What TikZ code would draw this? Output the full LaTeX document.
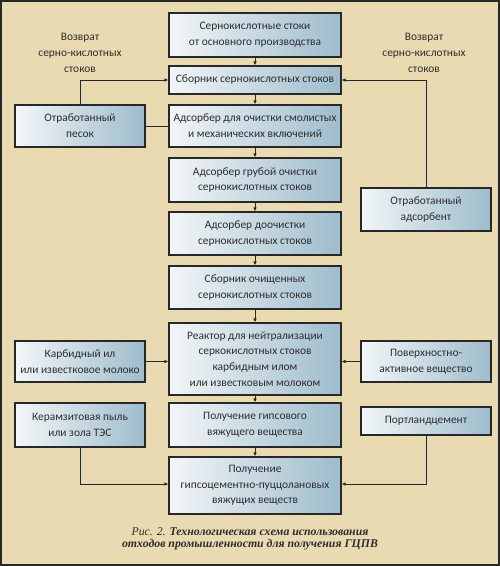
\documentclass[tikz,border=0pt]{standalone}
\usepackage{fontspec}
\setmainfont{Carlito}
\newfontfamily\capfont{Liberation Serif}
\usetikzlibrary{arrows.meta,shadows}
\definecolor{bgbeige}{RGB}{233,218,178}
\definecolor{boxL}{RGB}{242,246,248}
\definecolor{boxR}{RGB}{158,188,204}
\definecolor{txt}{RGB}{45,45,45}
\definecolor{frame}{RGB}{40,40,40}
\begin{document}
\begin{tikzpicture}[x=1pt,y=-1pt,
  box/.style={draw=frame,line width=1.1pt,left color=boxL,right color=boxR,
    drop shadow={shadow xshift=1pt,shadow yshift=-1pt,opacity=0.35},
    align=center,inner sep=0pt,text=txt,
    font=\fontsize{11.4}{15.7}\selectfont},
  cbox/.style={box,minimum width=172pt},
  sbox/.style={box,minimum width=130pt},
  arr/.style={line width=0.8pt,draw=frame,-{Latex[length=4pt,width=3.5pt]}},
  ln/.style={line width=0.8pt,draw=frame},
  lbl/.style={text=txt,align=center,font=\fontsize{11.4}{16}\selectfont}]
\useasboundingbox (0,0) rectangle (500,566);
\fill[bgbeige] (0,0) rectangle (500,566);
\draw[frame,line width=2pt] (1,1) rectangle (499,565);

% centre column
\node[cbox,minimum height=44pt] (b1) at (255,35) {Сернокислотные стоки\\от основного производства};
\node[cbox,minimum height=28pt] (b2) at (255,80) {Сборник сернокислотных стоков};
\node[cbox,minimum height=42pt] (b3) at (255,126) {Адсорбер для очистки смолистых\\и механических включений};
\node[cbox,minimum height=44pt] (b4) at (255,180) {Адсорбер грубой очистки\\сернокислотных стоков};
\node[cbox,minimum height=43pt] (b5) at (255,233.5) {Адсорбер доочистки\\сернокислотных стоков};
\node[cbox,minimum height=43pt] (b6) at (255,287.5) {Сборник очищенных\\сернокислотных стоков};
\node[cbox,minimum height=72pt] (b7) at (255,359) {Реактор для нейтрализации\\серкокислотных стоков\\карбидным илом\\или известковым молоком};
\node[cbox,minimum height=44pt] (b8) at (255,425) {Получение гипсового\\вяжущего вещества};
\node[cbox,minimum height=57pt] (b9) at (255,485.5) {Получение\\гипсоцементно-пуццолановых\\вяжущих веществ};

% left column
\node[sbox,minimum height=42pt] (pesok) at (80,126) {Отработанный\\песок};
\node[sbox,minimum height=41pt] (karb) at (80,361.5) {Карбидный ил\\или известковое молоко};
\node[sbox,minimum height=44pt] (ker) at (80,425) {Керамзитовая пыль\\или зола ТЭС};

% right column
\node[sbox,minimum height=43pt] (ads) at (426,209.5) {Отработанный\\адсорбент};
\node[sbox,minimum height=41pt] (pav) at (426,361.5) {Поверхностно-\\активное вещество};
\node[sbox,minimum height=28pt] (port) at (426,421) {Портландцемент};

% labels
\node[lbl] (retL) at (80,53) {Возврат\\серно-кислотных\\стоков};
\node[lbl] (retR) at (424,53) {Возврат\\серно-кислотных\\стоков};

% connectors
\foreach \a/\b in {b1/b2,b2/b3,b3/b4,b4/b5,b5/b6,b6/b7,b7/b8,b8/b9}
  \draw[arr] (\a.south) -- (\b.north);
\draw[arr] (pesok.north) |- (b2.west);
\draw[ln] (pesok.east) -- (b3.west);
\draw[arr] (ads.north) |- (b2.east);
\draw[arr] (karb.east) -- (karb.east -| b7.west);
\draw[arr] (pav.west) -- (pav.west -| b7.east);
\draw[arr] (ker.south) |- ([yshift=1.5pt]b9.west);
\draw[arr] (port.south) |- ([yshift=1.5pt]b9.east);

% caption
\node[text=txt,align=center,font=\capfont\fontsize{11.8}{12.5}\selectfont] (cap) at (250,539)
  {\textit{Рис. 2.} \textbf{\textit{Технологическая схема использования}}\\
   \textbf{\textit{отходов промышленности для получения ГЦПВ}}};
\end{tikzpicture}
\end{document}
